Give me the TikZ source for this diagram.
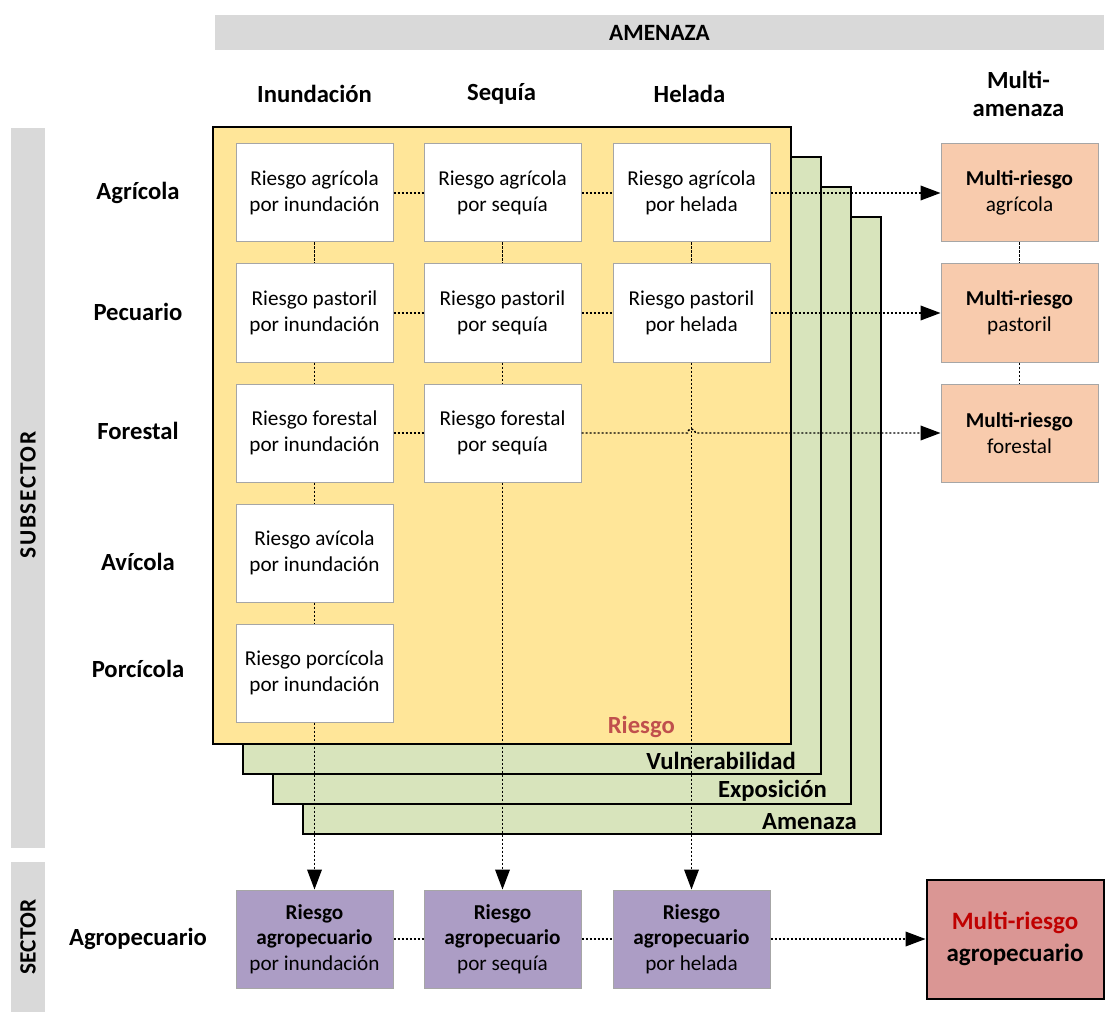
\documentclass[tikz,border=0pt]{standalone}
\usepackage{fontspec}
\setmainfont{Carlito}
\usepackage{tikz}
\usetikzlibrary{
  arrows.meta,
  positioning
}
\definecolor{LayerYellow}{RGB}{255,230,153}
\definecolor{LayerGreen}{RGB}{216,228,188}
\definecolor{BarGray}{RGB}{217,217,217}
\definecolor{MultiOrange}{RGB}{248,203,173}
\definecolor{SectorPurple}{RGB}{172,157,197}
\definecolor{MultiRed}{RGB}{218,150,148}
\definecolor{RiskRed}{RGB}{192,80,77}
\definecolor{DeepRed}{RGB}{192,0,0}
\definecolor{BoxBorder}{RGB}{166,166,166}
\tikzset{
  riskbox/.style={draw=BoxBorder,fill=white,line width=0.75pt,minimum width=117.75pt,minimum height=73.5pt,inner sep=0pt,align=center,font=\fontsize{15.9}{19.2}\selectfont},
  multibox/.style={riskbox,fill=MultiOrange},
  sectorbox/.style={riskbox,fill=SectorPurple},
  totalbox/.style={draw=black,line width=1.5pt,fill=MultiRed,minimum width=132.75pt,minimum height=89.25pt,inner sep=0pt,align=center,font=\bfseries\fontsize{18.75}{24}\selectfont},
  layer/.style={draw=black,line width=2pt,fill=LayerGreen,minimum width=433.5pt,minimum height=462.75pt,inner sep=0pt},
  layerlabel/.style={anchor=east,inner sep=0pt,font=\bfseries\fontsize{18.5}{22}\selectfont},
  headlabel/.style={align=center,inner sep=0pt,font=\bfseries\fontsize{18.5}{21}\selectfont},
  bar/.style={fill=BarGray,inner sep=0pt,font=\bfseries\fontsize{17.5}{20}\selectfont},
  bartext/.style={inner sep=0pt,font=\bfseries\fontsize{17.5}{20}\selectfont},
  link/.style={dash pattern=on 1.6pt off 1.4pt,line width=1.1pt},
  flow/.style={link,-{Triangle[length=15pt,width=11pt]}}
}
\begin{document}
\begin{tikzpicture}[x=0.75pt,y=-0.75pt]
\useasboundingbox (0,0) rectangle (1105,1012);

\node[bar,minimum width=666.75pt,minimum height=26.25pt] (bar-amen) at (659.5,32.5) {AMENAZA};
\node[bar,rotate=90,minimum width=540pt,minimum height=25.5pt] (bar-sub) at (28,488) {};
\node[bartext,rotate=90] (t-sub) at (28,495) {\addfontfeature{LetterSpace=7}SUBSECTOR};
\node[bar,rotate=90,minimum width=112.5pt,minimum height=25.5pt] (bar-sec) at (28,937) {SECTOR};

\node[headlabel] (h-inu) at (314.5,94) {Inundación};
\node[headlabel] (h-seq) at (501.5,94) {Sequía};
\node[headlabel] (h-hel) at (689.5,94) {Helada};
\node[headlabel] (h-multi) at (1018.5,94) {Multi-\\amenaza};

\node[layer] (lay-amen) at (592,525.5) {};
\node[layer] (lay-expo) at (562,495.5) {};
\node[layer] (lay-vuln) at (532,465.5) {};
\node[layer,fill=LayerYellow] (lay-ries) at (502,435.5) {};

\node[layerlabel,text=RiskRed] (l-ries) at (675,727) {Riesgo};
\node[layerlabel] (l-vuln) at (796,761) {Vulnerabilidad};
\node[layerlabel] (l-expo) at (827,791) {Exposición};
\node[layerlabel] (l-amen) at (857,822) {Amenaza};

\node[headlabel] (r-agr) at (138,193) {Agrícola};
\node[headlabel] (r-pec) at (138,312) {Pecuario};
\node[headlabel] (r-for) at (138,431) {Forestal};
\node[headlabel] (r-avi) at (138,562) {Avícola};
\node[headlabel] (r-por) at (138,669) {Porcícola};
\node[headlabel] (r-agro) at (138,939) {Agropecuario};

\node[riskbox] (agr-inu) at (314.5,193) {Riesgo agrícola\\por inundación};
\node[riskbox,right=22.5pt of agr-inu] (agr-seq) {Riesgo agrícola\\por sequía};
\node[riskbox,right=23.25pt of agr-seq] (agr-hel) {Riesgo agrícola\\por helada};
\node[riskbox,below=15.75pt of agr-inu] (pec-inu) {Riesgo pastoril\\por inundación};
\node[riskbox,below=15.75pt of agr-seq] (pec-seq) {Riesgo pastoril\\por sequía};
\node[riskbox,below=15.75pt of agr-hel] (pec-hel) {Riesgo pastoril\\por helada};
\node[riskbox,below=15.75pt of pec-inu] (for-inu) {Riesgo forestal\\por inundación};
\node[riskbox,below=15.75pt of pec-seq] (for-seq) {Riesgo forestal\\por sequía};
\node[riskbox,below=15.75pt of for-inu] (avi-inu) {Riesgo avícola\\por inundación};
\node[riskbox,below=15.75pt of avi-inu] (por-inu) {Riesgo porcícola\\por inundación};

\node[multibox,right=127.5pt of agr-hel] (multi-agr) {\textbf{Multi-riesgo}\\agrícola};
\node[multibox,below=15.75pt of multi-agr] (multi-pec) {\textbf{Multi-riesgo}\\pastoril};
\node[multibox,below=15.75pt of multi-pec] (multi-for) {\textbf{Multi-riesgo}\\forestal};

\node[sectorbox] (agro-inu) at (314.5,939) {\textbf{Riesgo}\\\textbf{agropecuario}\\por inundación};
\node[sectorbox,right=22.5pt of agro-inu] (agro-seq) {\textbf{Riesgo}\\\textbf{agropecuario}\\por sequía};
\node[sectorbox,right=23.25pt of agro-seq] (agro-hel) {\textbf{Riesgo}\\\textbf{agropecuario}\\por helada};
\node[totalbox,right=116.25pt of agro-hel] (multi-agro) {\textcolor{DeepRed}{Multi-riesgo}\\agropecuario};

\draw[link] (agr-inu) -- (agr-seq);
\draw[link] (agr-seq) -- (agr-hel);
\draw[flow] (agr-hel) -- (multi-agr);
\draw[link] (pec-inu) -- (pec-seq);
\draw[link] (pec-seq) -- (pec-hel);
\draw[flow] (pec-hel) -- (multi-pec);
\draw[link] (for-inu) -- (for-seq);
\coordinate (hop) at (for-seq.east -| pec-hel.south);
\draw[flow] (for-seq.east) -- ([xshift=-3pt]hop) arc[start angle=180,end angle=0,radius=3pt] -- (multi-for.west);

\draw[link] (agr-inu) -- (pec-inu);
\draw[link] (pec-inu) -- (for-inu);
\draw[link] (for-inu) -- (avi-inu);
\draw[link] (avi-inu) -- (por-inu);
\draw[flow] (por-inu) -- (agro-inu);
\draw[link] (agr-seq) -- (pec-seq);
\draw[link] (pec-seq) -- (for-seq);
\draw[flow] (for-seq) -- (agro-seq);
\draw[link] (agr-hel) -- (pec-hel);
\draw[flow] (pec-hel) -- (agro-hel);

\draw[link] (multi-agr) -- (multi-pec);
\draw[link] (multi-pec) -- (multi-for);

\draw[link] (agro-inu) -- (agro-seq);
\draw[link] (agro-seq) -- (agro-hel);
\draw[flow] (agro-hel) -- (multi-agro);
\end{tikzpicture}
\end{document}
